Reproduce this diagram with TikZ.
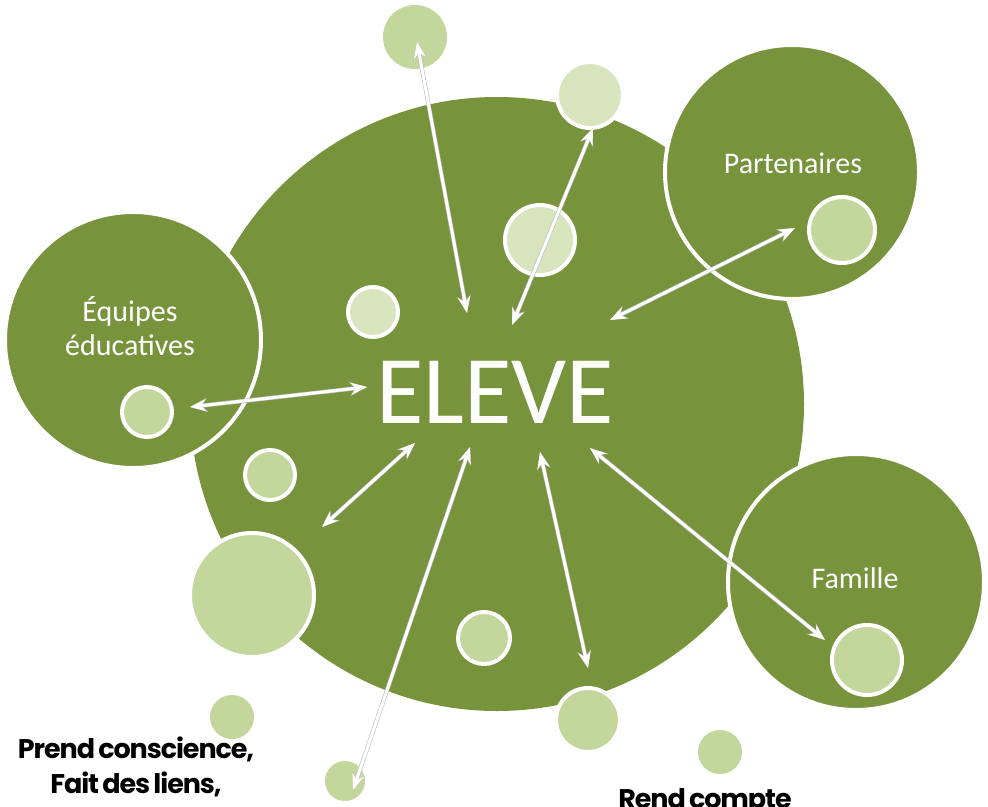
\documentclass[tikz,border=0pt]{standalone}
\usepackage{fontspec}
\usetikzlibrary{arrows.meta}
\setmainfont{Carlito}
\newfontfamily\roleface[LetterSpace=-4,WordSpace=0.7]{Poppins}
\definecolor{olive}{HTML}{77933C}
\definecolor{sage}{HTML}{C3D69B}
\definecolor{pale}{HTML}{D7E4BD}
\begin{document}
\begin{tikzpicture}[x=1pt,y=-1pt,>={Stealth[length=16pt,width=12pt]},
    disc/.style={circle,fill=olive,inner sep=0pt},
    ring/.style={draw=white,line width=4pt},
    bubble/.style={circle,fill=sage,inner sep=0pt},
    link/.style={<->,draw=white,line width=3pt,
        preaction={draw=black!25,line width=4.2pt,<->,
            >={Stealth[length=17.5pt,width=14pt]}}},
    label/.style={text=white,font=\fontsize{30}{34}\selectfont,align=center},
    role/.style={font=\roleface\bfseries\fontsize{27}{35}\selectfont,align=center}]
    \useasboundingbox (0,0) rectangle (988,806);
    % main disc and the three partner discs
    \node[disc,minimum size=614pt] (eleve) at (497,404) {};
    \node[disc,ring,minimum size=256pt] (equipes) at (133,340) {};
    \node[disc,ring,minimum size=254pt] (partenaires) at (792,172) {};
    \node[disc,ring,minimum size=256pt] (famille) at (856,582) {};
    % small bubbles
    \node[bubble,minimum size=64pt] (b1) at (415,37) {};
    \node[bubble,ring,fill=pale,minimum size=66pt] (b2) at (590,95) {};
    \node[bubble,ring,fill=pale,minimum size=70pt] (b3) at (540,240) {};
    \node[bubble,ring,fill=pale,minimum size=50pt] (b4) at (373,312) {};
    \node[bubble,ring,minimum size=50pt] (b5) at (147,412) {};
    \node[bubble,ring,minimum size=50pt] (b6) at (270,475) {};
    \node[bubble,ring,minimum size=124pt] (b7) at (252,595) {};
    \node[bubble,ring,minimum size=52pt] (b8) at (484,638) {};
    \node[bubble,ring,minimum size=64pt] (b9) at (588,720) {};
    \node[bubble,minimum size=44pt] (b10) at (232,717) {};
    \node[bubble,minimum size=44pt] (b11) at (720,752) {};
    \node[bubble,minimum size=40pt] (b12) at (345,781) {};
    \node[bubble,ring,minimum size=66pt] (b13) at (842,230) {};
    \node[bubble,ring,minimum size=70pt] (b14) at (867,660) {};
    % texts
    \node[text=white,font=\fontsize{97}{97}\selectfont] (title) at (495,392) {ELEVE};
    \node[label] (equipestext) at (130,326) {Équipes\\éducatives};
    \node[label] (partenairestext) at (793,163) {Partenaires};
    \node[label] (familletext) at (855,578) {Famille};
    \node[role] (prend) at (136,767) {Prend conscience,\\Fait des liens,};
    \node[role,anchor=north] (rend) at (705,785) {Rend compte};
    % links to the pupil
    \coordinate (e1) at (467,313);
    \coordinate (e2) at (512,325);
    \coordinate (e3) at (610,320);
    \coordinate (e4) at (367,387);
    \coordinate (e5) at (415,443);
    \coordinate (e6) at (470,447);
    \coordinate (e7) at (540,452);
    \coordinate (e8) at (590,448);
    \draw[link] (417,42) -- (e1);
    \draw[link] (593,128) -- (e2);
    \draw[link] (795,228) -- (e3);
    \draw[link] (190,407) -- (e4);
    \draw[link] (322,527) -- (e5);
    \draw[link] (353,790) -- (e6);
    \draw[link] (588,668) -- (e7);
    \draw[link] (825,640) -- (e8);
\end{tikzpicture}
\end{document}
